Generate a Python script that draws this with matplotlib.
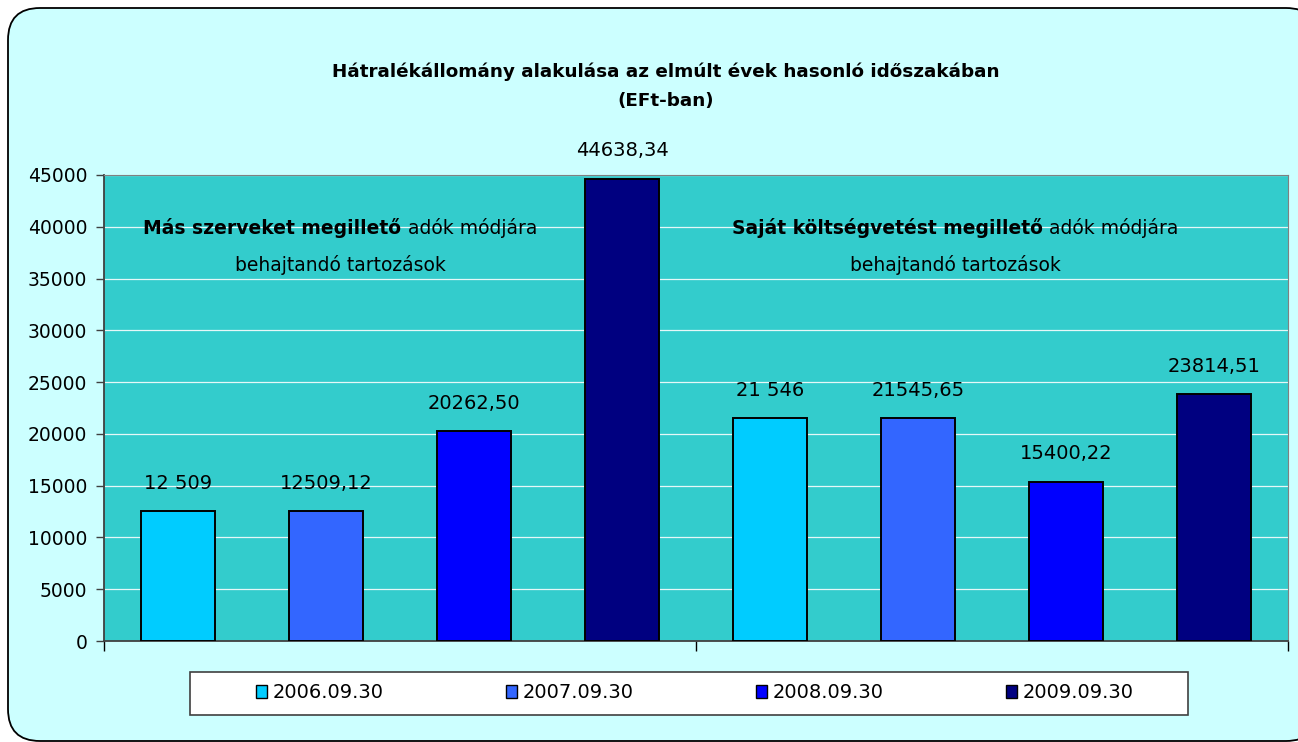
import matplotlib
matplotlib.use("Agg")
import matplotlib.pyplot as plt
import matplotlib.transforms as mtransforms
from matplotlib.patches import FancyBboxPatch, Rectangle, Patch
import numpy as np

groups = ["Más szerveket megillető", "Saját költségvetést megillető"]
years = ["2006.09.30", "2007.09.30", "2008.09.30", "2009.09.30"]
values = {
    "2006.09.30": [12509, 21546],
    "2007.09.30": [12509.12, 21545.65],
    "2008.09.30": [20262.50, 15400.22],
    "2009.09.30": [44638.34, 23814.51],
}
labels = {
    "2006.09.30": ["12 509", "21 546"],
    "2007.09.30": ["12509,12", "21545,65"],
    "2008.09.30": ["20262,50", "15400,22"],
    "2009.09.30": ["44638,34", "23814,51"],
}
colors = ["#00CCFF", "#3366FF", "#0000FF", "#000080"]
yticks = list(range(0, 45001, 5000))

DPI = 100
fig = plt.figure(figsize=(12.98, 7.42), dpi=DPI, facecolor="white")

# rounded chart area background
bg = FancyBboxPatch((0.08, 0.01), 13.1, 7.33,
                    boxstyle="round,pad=0,rounding_size=0.32",
                    transform=fig.dpi_scale_trans, facecolor="#CCFFFF",
                    edgecolor="black", linewidth=1.3, zorder=-10)
fig.patches.append(bg)

ax = fig.add_axes([0.0801, 0.1361, 0.9122, 0.6281])
ax.set_facecolor("#33CCCC")

x = np.arange(len(groups))
w = 0.125
for j, yr in enumerate(years):
    pos = x + (j - 1.5) * 0.25
    bars = ax.bar(pos, values[yr], width=w, color=colors[j],
                  edgecolor="black", linewidth=1.4, zorder=3)
    for b, lab in zip(bars, labels[yr]):
        ax.annotate(lab, (b.get_x() + b.get_width() / 2, b.get_height()),
                    xytext=(0, 16), textcoords="offset points",
                    ha="center", va="baseline", fontsize=14)

ax.set_xlim(-0.5, 1.5)
ax.set_ylim(0, 45000)
ax.set_yticks(yticks)
ax.set_yticklabels([str(t) for t in yticks])
ax.set_xticks([-0.5, 0.5, 1.5])
ax.set_xticklabels([])
ax.tick_params(axis="y", direction="out", length=6, width=1,
               labelsize=13.5, pad=6, colors="#404040", labelcolor="black")
ax.tick_params(axis="x", direction="out", length=7, width=1, colors="black")
ax.grid(axis="y", color="#E6F8F8", linewidth=0.9, zorder=1)
ax.set_axisbelow(True)
for s in ["top", "right"]:
    ax.spines[s].set_color("#808080")
for s in ["left", "bottom"]:
    ax.spines[s].set_color("#404040")
    ax.spines[s].set_linewidth(1.3)


def mixed_line(xc, yc, bold, normal, size=13.5):
    t1 = ax.text(xc, yc, bold, fontweight="bold", ha="left",
                 va="baseline", fontsize=size, zorder=5)
    t2 = ax.text(xc, yc, normal, ha="left", va="baseline",
                 fontsize=size, zorder=5)
    fig.canvas.draw()
    r = fig.canvas.get_renderer()
    w1 = t1.get_window_extent(r).width
    w2 = t2.get_window_extent(r).width
    gap = size * 0.35 * DPI / 72
    total = w1 + gap + w2
    t1.set_transform(mtransforms.offset_copy(ax.transData, fig=fig,
                                             x=-total / 2, y=0, units="dots"))
    t2.set_transform(mtransforms.offset_copy(ax.transData, fig=fig,
                                             x=-total / 2 + w1 + gap, y=0,
                                             units="dots"))


mixed_line(-0.101, 39300, groups[0], "adók módjára")
ax.text(-0.101, 35700, "behajtandó tartozások", ha="center",
        va="baseline", fontsize=13.5)
mixed_line(0.9375, 39300, groups[1], "adók módjára")
ax.text(0.9375, 35700, "behajtandó tartozások", ha="center",
        va="baseline", fontsize=13.5)

fig.text(0.513, 0.884,
         "Hátralékállomány alakulása az elmúlt évek hasonló időszakában\n(EFt-ban)",
         ha="center", va="center", fontsize=13.2, fontweight="bold",
         linespacing=1.8)

# legend box
fig.patches.append(Rectangle((190 / 1298, 1 - 715 / 742), 998 / 1298, 43 / 742,
                             transform=fig.transFigure, facecolor="white",
                             edgecolor="#404040", linewidth=1.2, zorder=1))
handles = [Patch(facecolor=c, edgecolor="black", linewidth=1) for c in colors]
fig.legend(handles, years, loc="center", bbox_to_anchor=(695 / 1298, 1 - 693 / 742),
           ncol=4, frameon=False, fontsize=14, handlelength=0.55,
           handleheight=0.65, handletextpad=0.3, columnspacing=6.3)

fig.savefig("out.png", dpi=DPI, facecolor="white")
